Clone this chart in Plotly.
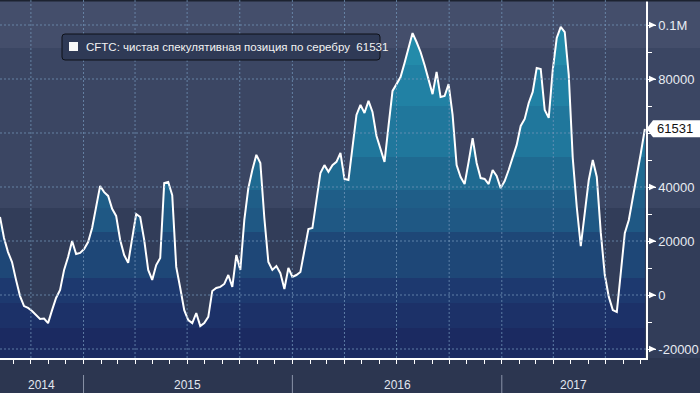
import pandas as pd
import plotly.graph_objects as go

# ---------------- data ----------------
dates = pd.date_range(end="2017-09-08", periods=162, freq="7D")
values = [28900, 21100, 15900, 12200, 5600, -400, -4100, -4800, -5900, -7400,
          -8900, -8700, -10400, -5600, -1100, 1900, 9300, 14100, 20000, 15200,
          15600, 17000, 19600, 24800, 33300, 40400, 38100, 36700, 31900, 29300,
          20400, 14800, 11900, 20400, 30000, 28900, 20400, 9300, 5600, 11100,
          13700, 41500, 41900, 37000, 10400, 2600, -5600, -9300, -10400, -6700,
          -11500, -10400, -8100, 1500, 2600, 3000, 4100, 7400, 3000, 14800,
          9300, 27800, 39600, 46300, 51900, 48900, 28500, 12200, 9300, 10700,
          8100, 2200, 10000, 6700, 7400, 8500, 16700, 24400, 24800, 34400,
          45200, 48100, 45600, 48100, 49300, 52600, 43000, 42600, 53700, 66700,
          70400, 67400, 71900, 67800, 58900, 53700, 49300, 62600, 75600, 78100,
          80700, 85900, 91900, 97000, 93700, 90000, 85200, 80000, 74400, 82600,
          73300, 73700, 78100, 66700, 48100, 43700, 41100, 49300, 58100, 48900,
          43300, 43000, 41100, 46300, 44100, 39600, 42200, 46300, 50700, 55600,
          62600, 65200, 71100, 75200, 84100, 83700, 68500, 65600, 83300, 95200,
          99300, 97400, 81500, 50700, 32600, 18100, 30400, 42600, 50000, 43700,
          23000, 7400, -700, -5600, -6300, 8100, 23000, 27800, 35900, 43300,
          52600, 61531]
series_name = "CFTC: чистая спекулятивная позиция по серебру"
year_labels = ["2014", "2015", "2016", "2017"]
y_tick_vals = [-20000, 0, 20000, 40000, 60000, 80000, 100000]
y_tick_text = ["-20000", "0", "20000", "40000", "", "80000", "0.1M"]

# ---------------- layout constants ----------------
W, H = 700, 393
ML, MR, MT, MB = 0, 54, 0, 35
PW = W - ML - MR
PH = H - MT - MB
X_RANGE = [pd.Timestamp("2014-08-08"), pd.Timestamp("2017-09-10")]
Y_RANGE = [-23333, 109259]
UPP = (Y_RANGE[1] - Y_RANGE[0]) / PH  # data units per pixel


def px_x(p):
    return p / PW


def px_y(p):
    return (PH - p) / PH


def norm(v):
    return (v - Y_RANGE[0]) / (Y_RANGE[1] - Y_RANGE[0])


fill_bands = [
    (Y_RANGE[0], -12222, "#1b2a61"),
    (-12222, -2963, "#1c3168"),
    (-2963, 6296, "#1d396f"),
    (6296, 23333, "#1e4777"),
    (23333, 32222, "#1f5884"),
    (32222, 38889, "#1f5e88"),
    (38889, 51111, "#1f6a91"),
    (51111, 70000, "#20779c"),
    (70000, 85000, "#2181a4"),
    (85000, Y_RANGE[1], "#238baa"),
]
colorscale = []
for lo, hi, c in fill_bands:
    colorscale.append([norm(lo), c])
    colorscale.append([norm(hi), c])
colorscale[0][0] = 0.0
colorscale[-1][0] = 1.0

fig = go.Figure()
fig.add_trace(go.Scatter(x=dates, y=[Y_RANGE[0]] * len(dates), mode="lines",
                         line=dict(width=0, color="rgba(0,0,0,0)"),
                         hoverinfo="skip", showlegend=False))
fig.add_trace(go.Scatter(x=dates, y=values, mode="lines", name=series_name,
                         line=dict(color="white", width=2),
                         fill="tonexty",
                         fillgradient=dict(type="vertical", start=Y_RANGE[0],
                                           stop=Y_RANGE[1], colorscale=colorscale),
                         showlegend=False))

shapes = []
# background bands (full width)
for top, bot, c in [(0, 48, "#444e6b"), (48, 208, "#3b4663"), (208, PH, "#323d59")]:
    shapes.append(dict(type="rect", xref="paper", yref="paper", layer="below",
                       x0=0, x1=W / PW, y0=px_y(bot), y1=px_y(top),
                       fillcolor=c, line=dict(width=0)))
# dark strip at very top
shapes.append(dict(type="rect", xref="paper", yref="paper", layer="above",
                   x0=0, x1=W / PW, y0=px_y(1.5), y1=1, fillcolor="#1c2230",
                   line=dict(width=0)))

grid_style = dict(color="rgba(115,150,185,0.75)", width=1, dash="2px,2px")
for q in pd.date_range("2014-10-01", "2017-07-01", freq="QS"):
    shapes.append(dict(type="line", xref="x", yref="paper", layer="above",
                       x0=q, x1=q, y0=0, y1=1, line=grid_style))
for v in y_tick_vals:
    shapes.append(dict(type="line", xref="paper", yref="y", layer="above",
                       x0=0, x1=1, y0=v, y1=v, line=grid_style))

# tick arrows on the right axis
for v, t in zip(y_tick_vals, y_tick_text):
    if not t:
        continue
    h = 3.2 * UPP
    shapes.append(dict(type="path", xref="paper", yref="y", layer="above",
                       path=f"M {px_x(649)},{v + h} L {px_x(656)},{v} L {px_x(649)},{v - h} Z",
                       fillcolor="white", line=dict(width=0)))

# year separators below axis
for yr in year_labels[1:]:
    d = pd.Timestamp(f"{yr}-01-01")
    shapes.append(dict(type="line", xref="x", yref="paper",
                       x0=d, x1=d, y0=px_y(375), y1=px_y(H),
                       line=dict(color="#8a93a8", width=1)))

# last-value marker
last = values[-1]
hh = 8.5 * UPP
shapes.append(dict(type="path", xref="paper", yref="y", layer="above",
                   path=(f"M {px_x(646.5)},{last} L {px_x(653)},{last + hh} "
                         f"L {px_x(705)},{last + hh} L {px_x(705)},{last - hh} "
                         f"L {px_x(653)},{last - hh} Z"),
                   fillcolor="white", line=dict(width=0)))


def rounded_rect(x0, y0, x1, y1, r):
    pts = [
        ("M", [(x0 + r, y0)]), ("L", [(x1 - r, y0)]), ("Q", [(x1, y0), (x1, y0 + r)]),
        ("L", [(x1, y1 - r)]), ("Q", [(x1, y1), (x1 - r, y1)]),
        ("L", [(x0 + r, y1)]), ("Q", [(x0, y1), (x0, y1 - r)]),
        ("L", [(x0, y0 + r)]), ("Q", [(x0, y0), (x0 + r, y0)]),
    ]
    s = ""
    for cmd, ps in pts:
        s += cmd + " " + " ".join(f"{px_x(a)},{px_y(b)}" for a, b in ps) + " "
    return s + "Z"


shapes.append(dict(type="path", xref="paper", yref="paper", layer="above",
                   path=rounded_rect(62, 34, 380, 60, 3),
                   fillcolor="#2f3a56", line=dict(color="#0e1118", width=1)))
shapes.append(dict(type="rect", xref="paper", yref="paper", layer="above",
                   x0=px_x(69), x1=px_x(78), y0=px_y(51), y1=px_y(42),
                   fillcolor="#f8f8f8", line=dict(width=0)))

annotations = [
    dict(xref="paper", yref="paper", x=px_x(84), y=px_y(47), xanchor="left",
         yanchor="middle", showarrow=False,
         text=f"{series_name}&nbsp; {last}",
         font=dict(family="Liberation Sans", size=11.5, color="#f2f2f2")),
    dict(xref="paper", yref="y", x=px_x(655), y=last, xanchor="left",
         yanchor="middle", showarrow=False, text=f"{last}",
         font=dict(family="Liberation Sans", size=13, color="#111111")),
]
for yr in year_labels:
    a = max(pd.Timestamp(f"{yr}-01-01"), X_RANGE[0])
    b = min(pd.Timestamp(f"{int(yr) + 1}-01-01"), X_RANGE[1])
    mid = a + (b - a) / 2
    annotations.append(dict(xref="x", yref="paper", x=mid, y=px_y(385),
                            xanchor="center", yanchor="middle", showarrow=False,
                            text=yr, font=dict(family="Liberation Sans", size=12,
                                               color="#e2e7ef")))

fig.update_layout(
    width=W, height=H,
    margin=dict(l=ML, r=MR, t=MT, b=MB),
    paper_bgcolor="#2c3650",
    plot_bgcolor="rgba(0,0,0,0)",
    showlegend=False,
    shapes=shapes,
    annotations=annotations,
    xaxis=dict(range=X_RANGE, showgrid=False, zeroline=False,
               showline=True, linecolor="white", linewidth=1.5,
               ticks="outside", ticklen=4, tickcolor="white", tickwidth=1,
               dtick="M1", tick0="2014-09-01", showticklabels=False),
    yaxis=dict(range=Y_RANGE, side="right", showgrid=False, zeroline=False,
               showline=True, linecolor="white", linewidth=1.5,
               tickmode="array", tickvals=y_tick_vals, ticktext=y_tick_text,
               ticks="outside", ticklen=8, tickcolor="white", tickwidth=1,
               tickfont=dict(family="Liberation Sans", size=13, color="#e8ecf2"),
               minor=dict(tickmode="linear", tick0=0, dtick=10000,
                          ticks="outside", ticklen=4, tickcolor="white")),
)

fig.write_html("out.html", config={"displayModeBar": False},
               post_script="document.body.style.margin='0';document.body.style.padding='0';")
